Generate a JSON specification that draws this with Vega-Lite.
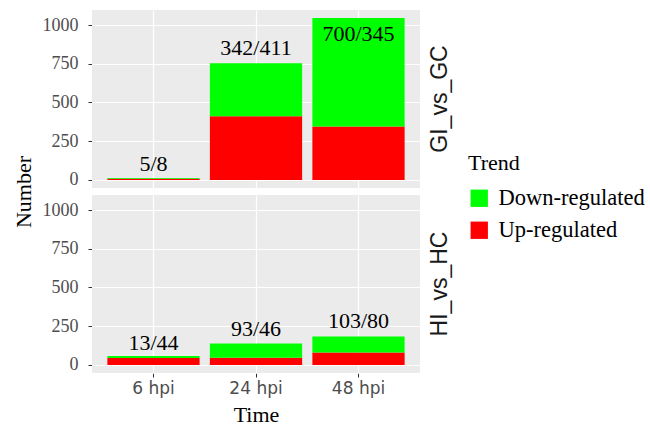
{
  "$schema": "https://vega.github.io/schema/vega-lite/v6.json",
  "background": "white",
  "padding": {"left": 12, "top": 10, "right": 5, "bottom": 5},
  "data": {"values": [
    {"comparison": "GI_vs_GC", "time": "6 hpi", "Trend": "Up-regulated", "count": 8},
    {"comparison": "GI_vs_GC", "time": "6 hpi", "Trend": "Down-regulated", "count": 5, "label": "5/8", "label_y": 100},
    {"comparison": "GI_vs_GC", "time": "24 hpi", "Trend": "Up-regulated", "count": 411},
    {"comparison": "GI_vs_GC", "time": "24 hpi", "Trend": "Down-regulated", "count": 342, "label": "342/411", "label_y": 850},
    {"comparison": "GI_vs_GC", "time": "48 hpi", "Trend": "Up-regulated", "count": 345},
    {"comparison": "GI_vs_GC", "time": "48 hpi", "Trend": "Down-regulated", "count": 700, "label": "700/345", "label_y": 940},
    {"comparison": "HI_vs_HC", "time": "6 hpi", "Trend": "Up-regulated", "count": 44},
    {"comparison": "HI_vs_HC", "time": "6 hpi", "Trend": "Down-regulated", "count": 13, "label": "13/44", "label_y": 144},
    {"comparison": "HI_vs_HC", "time": "24 hpi", "Trend": "Up-regulated", "count": 46},
    {"comparison": "HI_vs_HC", "time": "24 hpi", "Trend": "Down-regulated", "count": 93, "label": "93/46", "label_y": 231},
    {"comparison": "HI_vs_HC", "time": "48 hpi", "Trend": "Up-regulated", "count": 80},
    {"comparison": "HI_vs_HC", "time": "48 hpi", "Trend": "Down-regulated", "count": 103, "label": "103/80", "label_y": 286}
  ]},
  "facet": {
    "row": {
      "field": "comparison", "type": "nominal", "title": "Number",
      "header": {
        "labelOrient": "right", "labelAngle": -90, "titleOrient": "left",
        "labelFont": "Liberation Sans", "labelFontSize": 23, "labelColor": "#1A1A1A", "labelPadding": -3,
        "titleFont": "Liberation Serif", "titleFontSize": 22, "titleFontWeight": "normal", "titleColor": "black", "titlePadding": -4
      }
    }
  },
  "spacing": 7,
  "spec": {
    "width": 328,
    "height": 178,
    "layer": [
      {
        "mark": {"type": "bar"},
        "encoding": {
          "x": {"field": "time", "type": "nominal", "sort": ["6 hpi", "24 hpi", "48 hpi"], "title": "Time",
                "scale": {"paddingInner": 0.1, "paddingOuter": 0.15}},
          "y": {"field": "count", "type": "quantitative", "stack": "zero", "title": null,
                "scale": {"domain": [-52.25, 1097.25], "nice": false, "zero": false},
                "axis": {
                  "values": [0, 125, 250, 375, 500, 625, 750, 875, 1000],
                  "gridWidth": {"condition": {"test": "datum.value % 250 === 0", "value": 1.2}, "value": 0.6},
                  "tickOpacity": {"condition": {"test": "datum.value % 250 === 0", "value": 1}, "value": 0},
                  "labelExpr": "datum.value % 250 === 0 ? datum.label : ''",
                  "labelOverlap": false,
                  "format": "d"
                }},
          "color": {"field": "Trend", "type": "nominal",
                    "scale": {"domain": ["Down-regulated", "Up-regulated"], "range": ["#00FF00", "#FF0000"]}},
          "order": {"field": "Trend", "sort": "descending"}
        }
      },
      {
        "transform": [{"filter": "isValid(datum.label)"}],
        "mark": {"type": "text", "font": "Liberation Serif", "fontSize": 22, "baseline": "middle", "color": "black"},
        "encoding": {
          "x": {"field": "time", "type": "nominal", "sort": ["6 hpi", "24 hpi", "48 hpi"], "title": "Time"},
          "y": {"field": "label_y", "type": "quantitative", "title": null},
          "text": {"field": "label"}
        }
      }
    ]
  },
  "config": {
    "view": {"fill": "#EBEBEB", "stroke": null},
    "axisX": {
      "domain": false, "grid": true, "gridColor": "white", "gridWidth": 1.2, "bandPosition": 0.5,
      "tickColor": "#333333", "tickSize": 4, "labelAngle": 0,
      "labelFont": "DejaVu Sans", "labelFontSize": 17, "labelColor": "#4D4D4D", "labelPadding": 3,
      "titleFont": "Liberation Serif", "titleFontSize": 22, "titleFontWeight": "normal", "titleColor": "black", "titlePadding": 8
    },
    "axisY": {
      "domain": false, "grid": true, "gridColor": "white",
      "tickColor": "#333333", "tickSize": 4,
      "labelFont": "Liberation Serif", "labelFontSize": 18, "labelColor": "#4D4D4D", "labelPadding": 10
    },
    "legend": {
      "orient": "none", "legendX": 376, "legendY": 143,
      "titleFont": "Liberation Serif", "titleFontSize": 22, "titleFontWeight": "normal", "titleColor": "black", "titlePadding": 12,
      "labelFont": "Liberation Serif", "labelFontSize": 22.5, "labelColor": "black", "labelOffset": 8,
      "symbolType": "square", "symbolSize": 300, "symbolStrokeWidth": 0, "rowPadding": 9
    }
  }
}
